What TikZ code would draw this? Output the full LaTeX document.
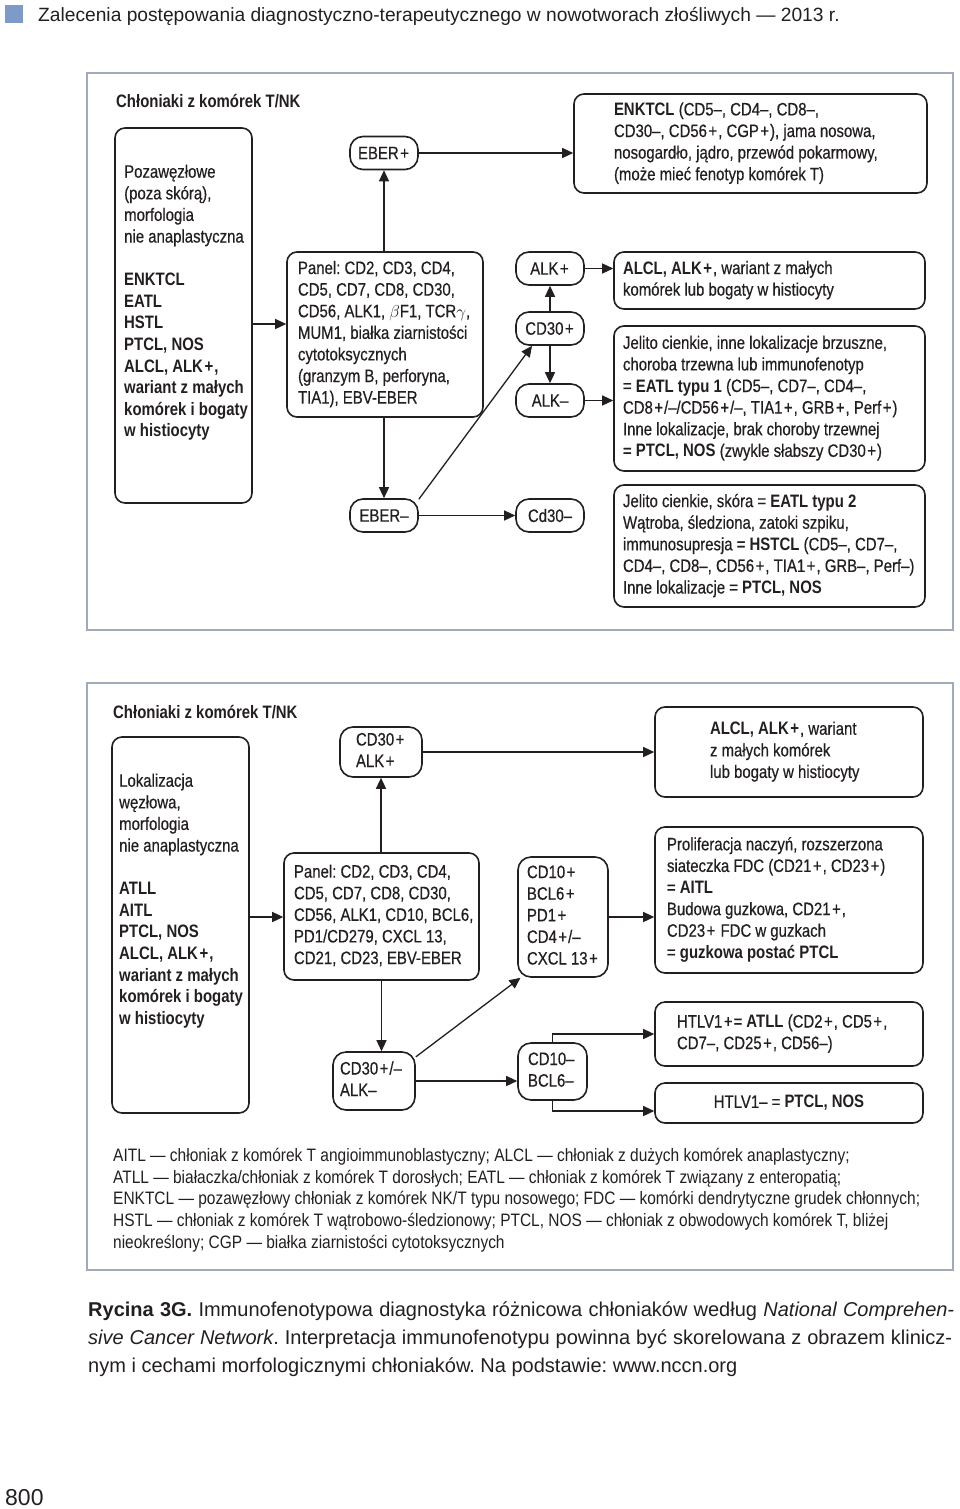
\documentclass[tikz,border=0pt]{standalone}
\usepackage{fontspec}
\setmainfont[FakeStretch=0.83, UprightFeatures={FakeBold=0.5}]{Liberation Sans}
\newfontfamily\hdrfont{Liberation Sans}
\newfontfamily\legfont[FakeStretch=0.86]{Liberation Sans}
\usetikzlibrary{arrows.meta,calc}
\definecolor{ink}{RGB}{35,31,32}
\definecolor{framec}{RGB}{160,170,186}
\definecolor{sqc}{RGB}{125,155,200}
\newcommand{\bx}[3]{\makebox[#1][l]{\hspace*{#2}\begin{tabular}{@{}l@{}}#3\end{tabular}}}
\newcommand{\tb}[1]{\begin{tabular}{@{}l@{}}#1\end{tabular}}
\newcommand{\pl}{\kern1.5pt+\kern1pt}
\frenchspacing
\tikzset{
  boxA/.style={draw=ink, line width=1.6pt, rounded corners=10pt, inner sep=0pt, text=ink, font=\fontsize{18}{21.6}\selectfont},
  sbox/.style={boxA, rounded corners=13pt},
  arr/.style={draw=ink, line width=1.3pt, -{Triangle[length=11pt,width=10pt]}},
  framebox/.style={draw=framec, line width=1.4pt},
  ttl/.style={font=\fontsize{18}{21.6}\selectfont\bfseries, text=ink, inner sep=0pt, anchor=west},
  txt/.style={font=\fontsize{18}{21.6}\selectfont, text=ink, inner sep=0pt, anchor=north west},
}
\begin{document}
\begin{tikzpicture}[x=1pt,y=1pt]
\useasboundingbox (0,0) rectangle (960,-1509);
% header
\node[fill=sqc, minimum size=18pt, inner sep=0pt, anchor=north west] (sqr) at (5,-5) {};
\node[anchor=base west, inner sep=0pt, text=ink, font=\hdrfont\fontsize{19.2}{22}\selectfont] (hdr) at (38,-21.5) {Zalecenia postępowania diagnostyczno-terapeutycznego w nowotworach złośliwych — 2013 r.};

% ===== top panel =====
\draw[framebox] (87,-73) rectangle (953,-630);
\node[ttl] (T1) at (116,-101) {Chłoniaki z komórek T/NK};
\node[boxA, minimum width=137pt, minimum height=375pt] (L1) at (183.5,-315.5) {};
\node[txt] (L1t) at (124,-162.4) {\tb{Pozawęzłowe\\(poza skórą),\\morfologia\\nie anaplastyczna\\ \\ \textbf{ENKTCL}\\ \textbf{EATL}\\ \textbf{HSTL}\\ \textbf{PTCL, NOS}\\ \textbf{ALCL, ALK\pl,}\\ \textbf{wariant z małych}\\ \textbf{komórek i bogaty}\\ \textbf{w histiocyty}}};
\node[boxA, minimum width=196pt, minimum height=165pt] (P1) at (385,-334.5) {\bx{196pt}{11pt}{Panel: CD2, CD3, CD4,\\CD5, CD7, CD8, CD30,\\CD56, ALK1, $\beta$F1, TCR$\gamma$,\\MUM1, białka ziarnistości\\cytotoksycznych\\(granzym B, perforyna,\\TIA1), EBV-EBER}};
\node[sbox, minimum width=68pt, minimum height=33pt] (E1) at (384,-153) {EBER\pl};
\node[sbox, minimum width=68pt, minimum height=33pt] (E2) at (384,-515.5) {EBER–};
\node[boxA, minimum width=353pt, minimum height=99pt] (N1) at (750.5,-143.5) {\bx{353pt}{40pt}{\textbf{ENKTCL} (CD5–, CD4–, CD8–,\\CD30–, CD56\pl, CGP\pl), jama nosowa,\\nosogardło, jądro, przewód pokarmowy,\\(może mieć fenotyp komórek T)}};
\node[sbox, minimum width=68pt, minimum height=33pt] (A1) at (550,-268.5) {ALK\pl};
\node[sbox, minimum width=68pt, minimum height=33pt] (C1) at (550,-328.5) {CD30\pl};
\node[sbox, minimum width=68pt, minimum height=33pt] (A2) at (550,-400.5) {ALK–};
\node[sbox, minimum width=68pt, minimum height=33pt] (C2) at (550,-515.5) {Cd30–};
\node[boxA, minimum width=311pt, minimum height=57pt] (R1) at (769.5,-280.5) {\bx{311pt}{9pt}{\textbf{ALCL, ALK\pl}, wariant z małych\\komórek lub bogaty w histiocyty}};
\node[boxA, minimum width=311pt, minimum height=145pt] (R2) at (769.5,-398.5) {\bx{311pt}{9pt}{Jelito cienkie, inne lokalizacje brzuszne,\\choroba trzewna lub immunofenotyp\\= \textbf{EATL typu 1} (CD5–, CD7–, CD4–,\\CD8\pl/–/CD56\pl/–, TIA1\pl, GRB\pl, Perf\pl)\\Inne lokalizacje, brak choroby trzewnej\\= \textbf{PTCL, NOS} (zwykle słabszy CD30\pl)}};
\node[boxA, minimum width=311pt, minimum height=122pt] (R3) at (769.5,-546) {\bx{311pt}{9pt}{Jelito cienkie, skóra = \textbf{EATL typu 2}\\Wątroba, śledziona, zatoki szpiku,\\immunosupresja = \textbf{HSTCL} (CD5–, CD7–,\\CD4–, CD8–, CD56\pl, TIA1\pl, GRB–, Perf–)\\Inne lokalizacje = \textbf{PTCL, NOS}}};
\coordinate (y1) at (0,-324);
\draw[arr] (L1.east |- y1) -- (P1.west |- y1);
\draw[arr] (E1.south |- P1.north) -- (E1.south);
\draw[arr] (E2.north |- P1.south) -- (E2.north);
\draw[arr] (E1.east) -- (E1.east -| N1.west);
\draw[arr] (E2.east) -- (C2.west);
\draw[arr] (E2.25) -- (C1.224);
\draw[arr] (C1.north) -- (A1.south);
\draw[arr] (C1.south) -- (A2.north);
\draw[arr] (A1.east) -- (A1.east -| R1.west);
\draw[arr] (A2.east) -- (A2.east -| R2.west);

% ===== bottom panel =====
\draw[framebox] (87,-683) rectangle (953,-1270);
\node[ttl] (T2) at (113,-712) {Chłoniaki z komórek T/NK};
\node[boxA, minimum width=137pt, minimum height=376pt] (L2) at (180.5,-925) {};
\node[txt] (L2t) at (119,-771.4) {\tb{Lokalizacja\\węzłowa,\\morfologia\\nie anaplastyczna\\ \\ \textbf{ATLL}\\ \textbf{AITL}\\ \textbf{PTCL, NOS}\\ \textbf{ALCL, ALK\pl,}\\ \textbf{wariant z małych}\\ \textbf{komórek i bogaty}\\ \textbf{w histiocyty}}};
\node[boxA, minimum width=195pt, minimum height=127pt] (P2) at (381.5,-916.5) {\bx{195pt}{10pt}{Panel: CD2, CD3, CD4,\\CD5, CD7, CD8, CD30,\\CD56, ALK1, CD10, BCL6,\\PD1/CD279, CXCL 13,\\CD21, CD23, EBV-EBER}};
\node[sbox, minimum width=82pt, minimum height=50pt] (B1) at (381,-752) {\bx{82pt}{16pt}{CD30\pl\\ALK\pl}};
\node[sbox, minimum width=82pt, minimum height=58pt] (B2) at (374,-1081) {\bx{82pt}{7pt}{CD30\pl/–\\ALK–}};
\node[boxA, minimum width=268pt, minimum height=90pt] (Q1) at (789,-752) {\bx{268pt}{55pt}{\textbf{ALCL, ALK\pl}, wariant\\z małych komórek\\lub bogaty w histiocyty}};
\node[sbox, minimum width=90pt, minimum height=120pt] (D1) at (563,-917) {\bx{90pt}{9pt}{CD10\pl\\BCL6\pl\\PD1\pl\\CD4\pl/–\\CXCL 13\pl}};
\node[boxA, minimum width=268pt, minimum height=146pt] (Q2) at (789,-900) {\bx{268pt}{12pt}{Proliferacja naczyń, rozszerzona\\siateczka FDC (CD21\pl, CD23\pl)\\= \textbf{AITL}\\Budowa guzkowa, CD21\pl,\\CD23\pl\ FDC w guzkach\\= \textbf{guzkowa postać PTCL}}};
\node[sbox, minimum width=69pt, minimum height=57pt] (D2) at (552.5,-1071.5) {\bx{69pt}{10pt}{CD10–\\BCL6–}};
\node[boxA, minimum width=268pt, minimum height=64pt] (Q3) at (789,-1034) {\bx{268pt}{22pt}{HTLV1\pl= \textbf{ATLL} (CD2\pl, CD5\pl,\\CD7–, CD25\pl, CD56–)}};
\node[boxA, minimum width=268pt, minimum height=40pt] (Q4) at (789,-1103) {HTLV1– = \textbf{PTCL, NOS}};
\coordinate (y2) at (0,-917);
\draw[arr] (L2.east |- y2) -- (P2.west |- y2);
\draw[arr] (B1.south |- P2.north) -- (B1.south);
\draw[arr] (P2.south) -- (P2.south |- B2.north);
\draw[arr] (B1.east) -- (B1.east -| Q1.west);
\draw[arr] (B2.30) -- (D1.235);
\draw[arr] (B2.east) -- (B2.east -| D2.west);
\draw[arr] (D1.east) -- (D1.east -| Q2.west);
\draw[arr] (D2.north) |- (Q3.west);
\draw[arr] (D2.south) |- ([yshift=-8pt]Q4.west);

% legend
\node[anchor=north west, inner sep=0pt, text=ink, font=\legfont\fontsize{18}{21.6}\selectfont] (leg) at (113,-1146.4) {\tb{AITL — chłoniak z komórek T angioimmunoblastyczny; ALCL — chłoniak z dużych komórek anaplastyczny;\\ATLL — białaczka/chłoniak z komórek T dorosłych; EATL — chłoniak z komórek T związany z enteropatią;\\ENKTCL — pozawęzłowy chłoniak z komórek NK/T typu nosowego; FDC — komórki dendrytyczne grudek chłonnych;\\HSTL — chłoniak z komórek T wątrobowo-śledzionowy; PTCL, NOS — chłoniak z obwodowych komórek T, bliżej\\nieokreślony; CGP — białka ziarnistości cytotoksycznych}};

% caption
\node[anchor=north west, inner sep=0pt, text=ink, font=\hdrfont\fontsize{20}{28}\selectfont] (cap) at (88,-1296.4) {\tb{\makebox[866pt][s]{\textbf{Rycina 3G.} Immunofenotypowa diagnostyka różnicowa chłoniaków według \textit{National Comprehen-}}\\\makebox[864pt][s]{\textit{sive Cancer Network}. Interpretacja immunofenotypu powinna być skorelowana z obrazem klinicz-}\\nym i cechami morfologicznymi chłoniaków. Na podstawie: www.nccn.org}};

% page number
\node[anchor=base west, inner sep=0pt, text=ink, font=\hdrfont\fontsize{23}{26}\selectfont] (pg) at (5,-1505) {800};
\end{tikzpicture}
\end{document}
